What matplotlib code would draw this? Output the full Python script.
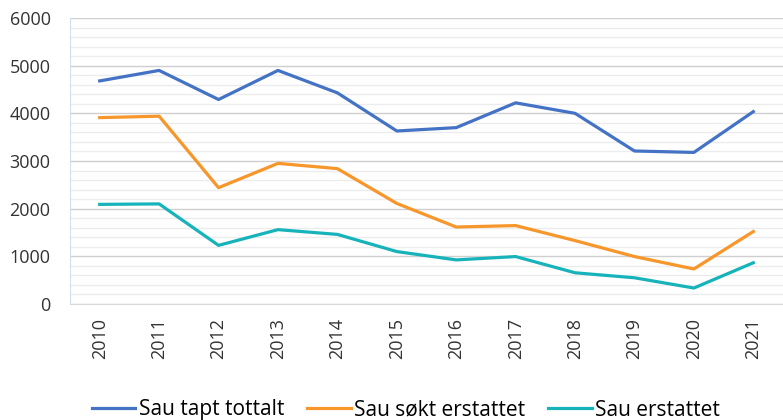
import matplotlib
matplotlib.use("Agg")
import matplotlib.pyplot as plt
from matplotlib.ticker import MultipleLocator

years = ["2010", "2011", "2012", "2013", "2014", "2015", "2016", "2017", "2018", "2019", "2020", "2021"]
tapt = [4680, 4900, 4290, 4900, 4430, 3630, 3700, 4220, 4000, 3210, 3180, 4035]
sokt = [3910, 3940, 2440, 2950, 2840, 2110, 1615, 1645, 1330, 995, 735, 1520]
erstattet = [2090, 2100, 1230, 1560, 1460, 1100, 925, 995, 655, 550, 335, 865]

plt.rcParams["font.family"] = ["Open Sans", "DejaVu Sans"]

fig = plt.figure(figsize=(7.83, 4.2), dpi=100)
ax = fig.add_axes([70 / 783, 1 - 304 / 420, 713 / 783, 286 / 420])

x = list(range(len(years)))
ax.plot(x, tapt, color="#4472C4", lw=2.3, label="Sau tapt tottalt")
ax.plot(x, sokt, color="#F7962B", lw=2.3, label="Sau søkt erstattet")
ax.plot(x, erstattet, color="#17B3BA", lw=2.3, label="Sau erstattet")

ax.set_xlim(-0.5, len(years) - 0.5)
ax.set_ylim(0, 6000)
ax.yaxis.set_major_locator(MultipleLocator(1000))
ax.yaxis.set_minor_locator(MultipleLocator(200))
ax.grid(axis="y", which="major", color="#cfcfcf", lw=1)
ax.grid(axis="y", which="minor", color="#ececec", lw=1)
ax.set_axisbelow(True)

ax.set_xticks(x)
ax.set_xticklabels(years, rotation=90, fontsize=13, color="#333333")
ax.tick_params(axis="y", labelsize=13, labelcolor="#333333", pad=14)
ax.tick_params(axis="x", pad=10)
ax.tick_params(which="both", length=0)

for s in ["top", "right"]:
    ax.spines[s].set_visible(False)
ax.spines["left"].set_color("#cfe0f0")
ax.spines["bottom"].set_color("#d9d9d9")

fig.legend(loc="center", bbox_to_anchor=(0.518, 1 - 410 / 420), ncol=3, frameon=False,
           fontsize=15, handlelength=2.1, handletextpad=0.15, columnspacing=1.1)

fig.savefig("out.png", dpi=100)
